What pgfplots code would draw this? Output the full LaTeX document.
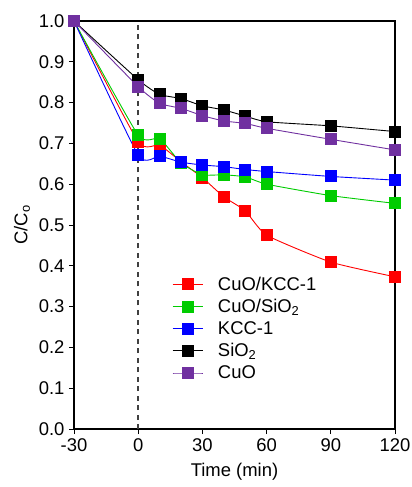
\documentclass[border=0pt]{standalone}
\usepackage{fontspec}
\setmainfont{Liberation Sans}
\usepackage{pgfplots}
\pgfplotsset{compat=1.18}
\definecolor{cgreen}{RGB}{0,204,0}
\definecolor{cpurple}{RGB}{112,48,160}
\begin{document}
\begin{tikzpicture}
\useasboundingbox (-74bp,-58bp) rectangle (338bp,429bp);
\begin{axis}[
  at={(0,0)}, anchor=south west,
  scale only axis, width=321bp, height=408bp,
  xmin=-30, xmax=120, ymin=0, ymax=1,
  xtick={-30,0,30,60,90,120},
  ytick={0,0.1,...,1.0},
  yticklabel style={xshift=-1bp, /pgf/number format/.cd, fixed, fixed zerofill, precision=1},
  /pgf/number format/assume math mode=true,
  tick align=outside, tick pos=left,
  major tick length=5bp,
  axis line style={line width=1.2pt},
  tick style={line width=0.9pt, black},
  font=\fontsize{18.5}{22}\selectfont,
  xlabel={Time (min)},
  ylabel={C/C\textsubscript{o}},
  xlabel style={at={(axis description cs:0.5,-0.105)}, anchor=center},
  ylabel style={at={(axis description cs:-0.162,0.5)}, anchor=center},
  xticklabel style={yshift=-1bp},
  legend style={draw=none, fill=none, at={(rel axis cs:0.305,0.378)}, anchor=north west,
    row sep=3.5bp, font=\fontsize{18.5}{22}\selectfont, inner sep=0pt},
  legend cell align=left,
  legend image code/.code={\draw[mark repeat=2,mark phase=2,#1] plot coordinates {(0bp,0bp) (15bp,0bp) (30bp,0bp)}; \path (43bp,0bp);},
  every axis plot/.append style={line width=0.9pt, smooth, tension=0.3, mark=square*, mark size=5.5bp, mark options={solid}},
  clip=false,
]
\draw[dash pattern=on 5bp off 4.5bp, line width=1.6pt, black!75] (axis cs:0,0) -- (axis cs:0,1);
\addplot[red, mark options={fill=red}] coordinates {(-30,1.0) (0,0.704) (10,0.696) (20,0.655) (30,0.616) (40,0.569) (50,0.535) (60,0.475) (90,0.409) (120,0.373)};
\addlegendentry{CuO/KCC-1}
\addplot[cgreen, mark options={fill=cgreen}] coordinates {(-30,1.0) (0,0.720) (10,0.712) (20,0.652) (30,0.623) (40,0.623) (50,0.618) (60,0.600) (90,0.572) (120,0.553)};
\addlegendentry{CuO/SiO\textsubscript{2}}
\addplot[blue, mark options={fill=blue}] coordinates {(-30,1.0) (0,0.671) (10,0.669) (20,0.654) (30,0.647) (40,0.643) (50,0.636) (60,0.631) (90,0.619) (120,0.610)};
\addlegendentry{KCC-1}
\addplot[black, mark options={fill=black}] coordinates {(-30,1.0) (0,0.856) (10,0.820) (20,0.810) (30,0.792) (40,0.782) (50,0.767) (60,0.753) (90,0.743) (120,0.729)};
\addlegendentry{SiO\textsubscript{2}}
\addplot[cpurple, mark options={fill=cpurple}] coordinates {(-30,1.0) (0,0.839) (10,0.798) (20,0.786) (30,0.768) (40,0.755) (50,0.749) (60,0.737) (90,0.710) (120,0.684)};
\addlegendentry{CuO}
\end{axis}
\end{tikzpicture}
\end{document}
